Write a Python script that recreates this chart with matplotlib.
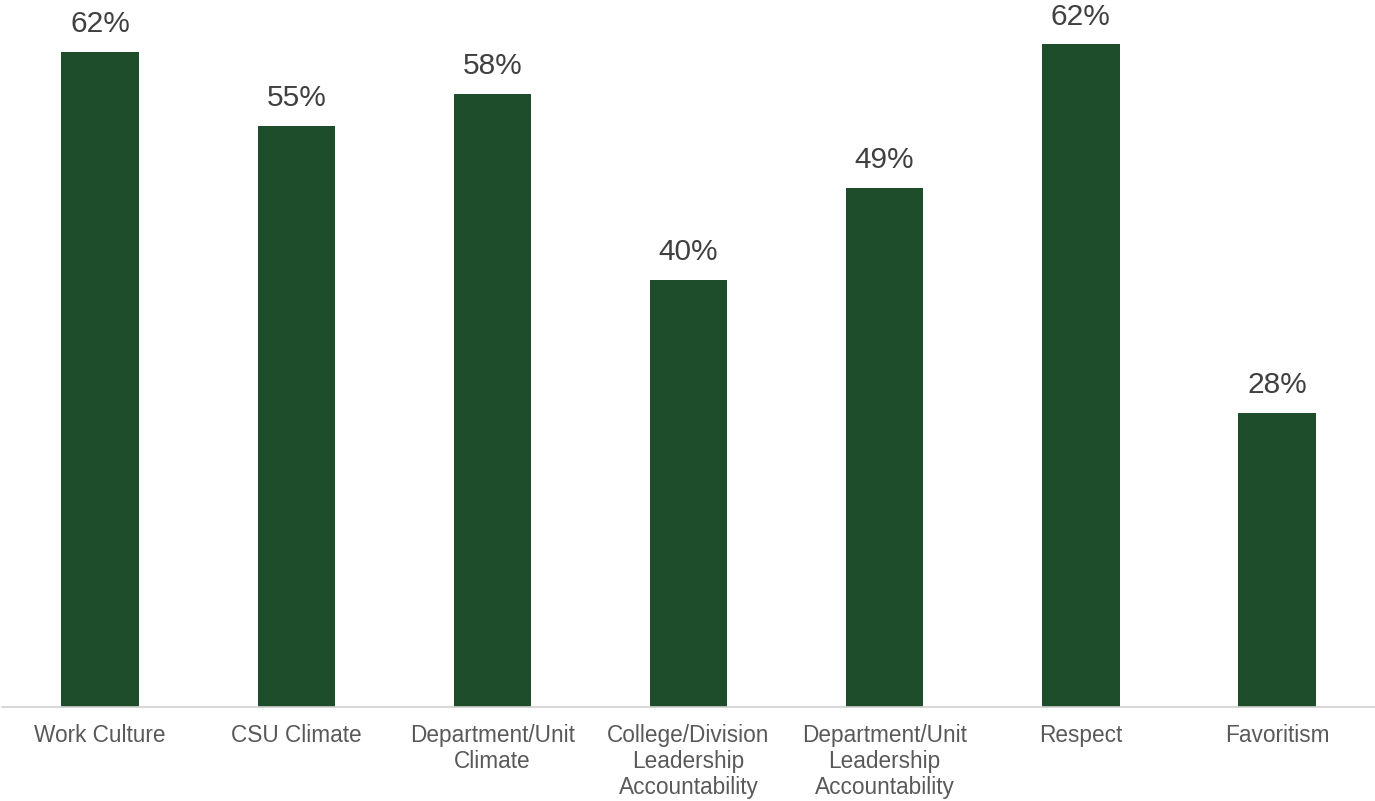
import matplotlib.pyplot as plt

categories = ["Work Culture", "CSU Climate", "Department/Unit\nClimate",
              "College/Division\nLeadership\nAccountability",
              "Department/Unit\nLeadership\nAccountability",
              "Respect", "Favoritism"]
values = [62.0, 55.0, 58.0, 40.4, 49.1, 62.7, 27.8]
labels = ["62%", "55%", "58%", "40%", "49%", "62%", "28%"]

plt.rcParams['font.family'] = ['Liberation Sans', 'DejaVu Sans']

fig = plt.figure(figsize=(13.75, 8.01), dpi=100)
ax = fig.add_axes([0.0015, 1 - 707 / 801, 0.9985, 707 / 801])

x = range(len(categories))
bars = ax.bar(x, values, width=0.395, color="#1E4D2B")
for b, lab in zip(bars, labels):
    ax.text(b.get_x() + b.get_width() / 2, b.get_height() + 1.3, lab,
            ha="center", va="bottom", fontsize=21.5, color="#404040")

ax.set_xlim(-0.5, len(categories) - 0.5)
ax.set_ylim(0, 66.9)
ax.set_xticks(list(x))
ax.set_xticklabels(categories, fontsize=16.3, color="#595959", linespacing=1.18)
ax.tick_params(axis="x", length=0, pad=12)
ax.set_yticks([])
for s in ["top", "right", "left"]:
    ax.spines[s].set_visible(False)
ax.spines["bottom"].set_color("#D0D0D0")
ax.spines["bottom"].set_linewidth(1.2)

fig.savefig("out.png", dpi=100)
